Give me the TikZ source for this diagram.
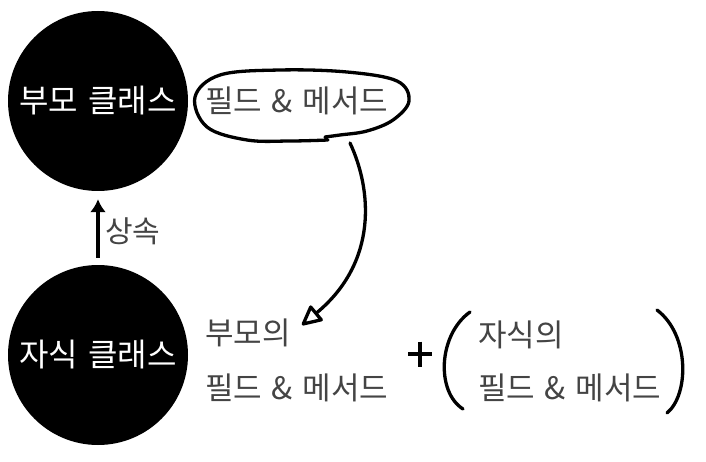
\documentclass[tikz,border=0pt]{standalone}
\usepackage{fontspec}
\setmainfont{Noto Sans CJK KR}[WordSpace=1.4]
\usetikzlibrary{arrows.meta,calc}
\definecolor{txtgray}{RGB}{68,68,68}
\tikzset{
  cls/.style={circle, fill=black, minimum size=180pt, inner sep=0pt, text=white, font=\fontsize{32}{38}\selectfont},
  lbl/.style={inner sep=0pt, text=txtgray, font=\fontsize{31}{37}\selectfont, anchor=west},
  hand/.style={line width=3.3pt, line cap=round, line join=round, black},
}
\begin{document}
\begin{tikzpicture}[x=1pt, y=-1pt]
\useasboundingbox (0,0) rectangle (706,462);
% classes
\node[cls] (parent) at (98,101) {부모 클래스};
\node[cls] (child) at (98,355) {자식 클래스};
% inheritance arrow
\draw[line width=4pt, -{Latex[length=13pt,width=16pt]}, shorten <=7pt, shorten >=8pt] (child.north) -- (parent.south);
\node[lbl, font=\fontsize{30}{36}\selectfont] (inh) at (105,231) {상속};
% field & method in ellipse
\node[lbl] (fm1) at (205,101) {필드 \& 메서드};
\draw[hand] plot[smooth, tension=0.6] coordinates {
  (325,137) (340,135) (367,131) (393,120) (409,101) (397,81) (347,72)
  (280,70) (220,75) (195,97) (207,127) (247,140) (290,141) (328,140)};
% curved arrow
\coordinate (src) at (350,143);
\coordinate (dst) at (302,325);
\draw[hand, -{Triangle[open, length=22pt, width=21pt, line width=3.3pt, round]}]
  (src) .. controls (372,190) and (378,262) .. (dst);
% parent's fields
\node[lbl] (pof) at (205,333) {부모의};
\node[lbl] (pfm) at (205,388) {필드 \& 메서드};
% plus
\coordinate (plus) at (420,354);
\draw[line width=4.5pt] ($(plus)+(-12,0)$) -- ($(plus)+(12,0)$);
\draw[line width=4.5pt] ($(plus)+(0,-12.5)$) -- ($(plus)+(0,12.5)$);
% parentheses
\draw[hand] (470,312) .. controls (438,335) and (436,392) .. (463,409);
\draw[hand] (657,310) .. controls (690,335) and (689,395) .. (667,413);
% child's fields
\node[lbl] (cof) at (478,335) {자식의};
\node[lbl] (cfm) at (478,388) {필드 \& 메서드};
\end{tikzpicture}
\end{document}
